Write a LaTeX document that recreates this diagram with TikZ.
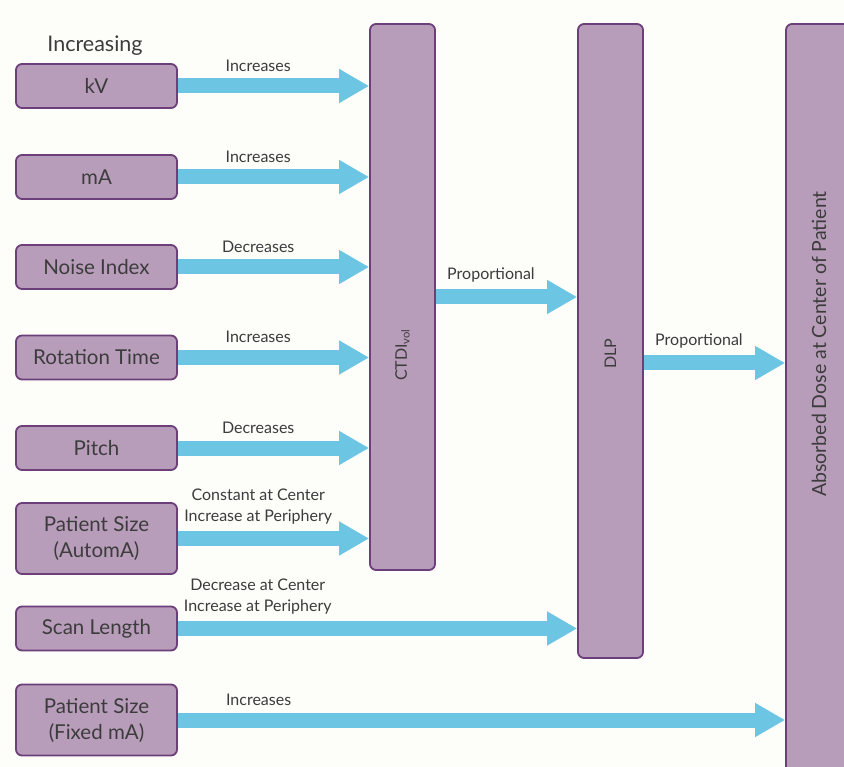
\documentclass[tikz,border=0pt]{standalone}
\usepackage{fontspec}
\setmainfont{Lato}
\usetikzlibrary{arrows.meta}
\definecolor{boxfill}{RGB}{184,157,186}
\definecolor{boxline}{RGB}{108,62,122}
\definecolor{flowblue}{RGB}{108,197,227}
\definecolor{pagebg}{RGB}{253,253,250}
\definecolor{inktext}{RGB}{60,60,60}

\begin{document}
\begin{tikzpicture}[x=1pt,y=-1pt,
  factor/.style={draw=boxline,fill=boxfill,line width=1.8pt,rounded corners=6pt,minimum width=161pt,minimum height=44pt,inner sep=0pt,text=inktext,font=\fontsize{20.5}{26}\selectfont,align=center},
  tall/.style={draw=boxline,fill=boxfill,line width=1.8pt,rounded corners=6pt,minimum width=65pt,inner sep=0pt},
  vtext/.style={rotate=90,text=inktext,inner sep=0pt,font=\fontsize{16}{19}\selectfont},
  flow/.style={draw=flowblue,line width=15pt,-{Triangle[length=30pt,width=32pt]}},
  tag/.style={text=inktext,font=\fontsize{16}{21}\selectfont,align=center,inner sep=0pt}
]
\fill[pagebg] (0,0) rectangle (844,767);
\useasboundingbox (0,0) rectangle (844,767);

% inputs on the left
\node[text=inktext,font=\fontsize{21.5}{24}\selectfont] (incr) at (95,46) {Increasing};
\node[factor] (kv) at (96.5,86) {kV};
\node[factor] (ma) at (96.5,177) {mA};
\node[factor] (noise) at (96.5,267) {Noise Index};
\node[factor] (rot) at (96.5,357.5) {Rotation Time};
\node[factor] (pitch) at (96.5,448) {Pitch};
\node[factor,minimum height=71pt] (psauto) at (96.5,538.5) {Patient Size\\(AutomA)};
\node[factor] (scan) at (96.5,628.5) {Scan Length};
\node[factor,minimum height=71pt] (psfixed) at (96.5,720) {Patient Size\\(Fixed mA)};

% dose quantities
\node[tall,minimum height=546pt] (ctdi) at (402.5,297) {};
\node[tall,minimum height=634pt] (dlp) at (610.5,341) {};
\node[tall,minimum width=70pt,minimum height=770pt] (dose) at (821,409) {};
\node[vtext] (ctdilbl) at (402.5,355) {CTDI\textsubscript{vol}};
\node[vtext] (dlplbl) at (610.5,354) {DLP};
\node[vtext,font=\fontsize{19.5}{22}\selectfont] (doselbl) at (819,344) {Absorbed Dose at Center of Patient};

% arrows
\draw[flow] (kv.east) -- node[tag,above=7pt,pos=0.42] {Increases} (kv.east -| ctdi.west);
\draw[flow] (ma.east) -- node[tag,above=7pt,pos=0.42] {Increases} (ma.east -| ctdi.west);
\draw[flow] (noise.east) -- node[tag,above=7pt,pos=0.42] {Decreases} (noise.east -| ctdi.west);
\draw[flow] (rot.east) -- node[tag,above=7pt,pos=0.42] {Increases} (rot.east -| ctdi.west);
\draw[flow] (pitch.east) -- node[tag,above=7pt,pos=0.42] {Decreases} (pitch.east -| ctdi.west);
\draw[flow] (psauto.east) -- node[tag,above=7pt,pos=0.42] {Constant at Center\\Increase at Periphery} (psauto.east -| ctdi.west);
\draw[flow] (scan.east) -- node[tag,above=7pt,pos=0.2] {Decrease at Center\\Increase at Periphery} (scan.east -| dlp.west);
\draw[flow] (psfixed.east) -- node[tag,above=7pt,pos=0.133] {Increases} (psfixed.east -| dose.west);
\draw[flow] (ctdi.east |- 0,297) coordinate (c1) -- node[tag,above=7pt,pos=0.39] {Proportional} (c1 -| dlp.west);
\draw[flow] (dlp.east |- 0,363) coordinate (d1) -- node[tag,above=7pt,pos=0.39] {Proportional} (d1 -| dose.west);
\end{tikzpicture}
\end{document}
